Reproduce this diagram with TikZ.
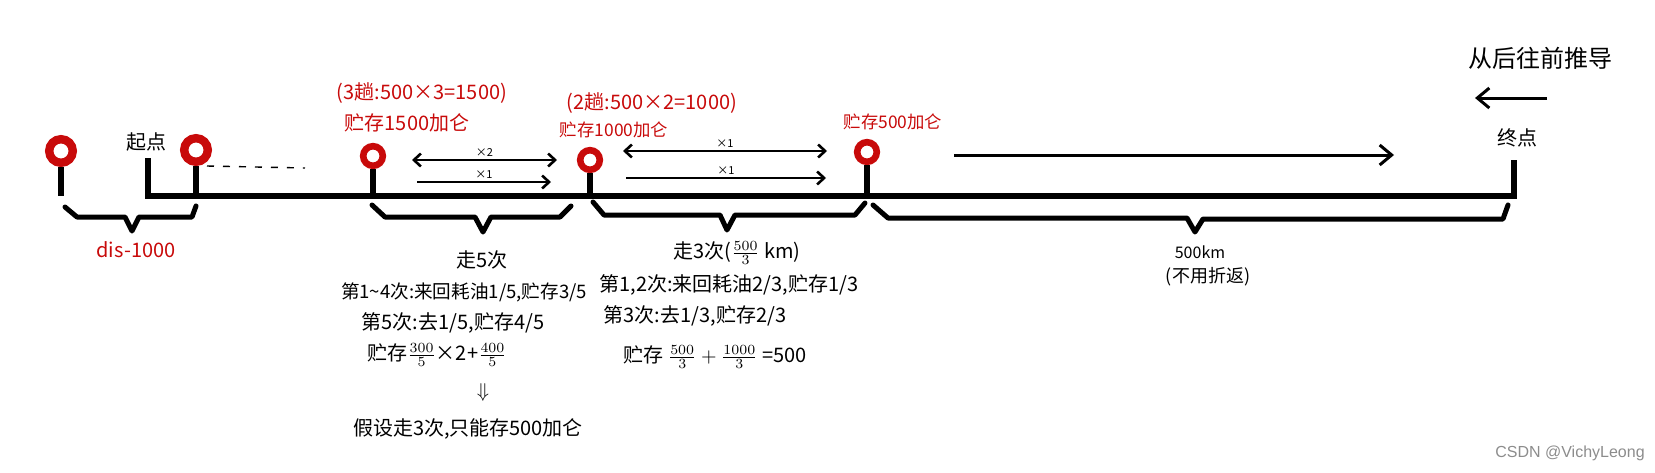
\documentclass[tikz,border=0pt]{standalone}
\usepackage{amsmath}
\usepackage{fontspec}
\setmainfont{Noto Sans CJK SC}
\newfontfamily\wmfont{Liberation Sans}
\usepackage{tikz}
\usetikzlibrary{arrows.meta,positioning}
\definecolor{stred}{RGB}{200,10,10}

\begin{document}
\begin{tikzpicture}[x=0.5pt, y=-0.5pt, >={Straight Barb[length=3.5pt,width=6.5pt]}]
        % Stili
        \tikzstyle{station} = [draw=stred, circle, line width=4.2pt, minimum size=11.8pt, inner sep=0pt]
        \tikzstyle{smallstation} = [station, line width=3.3pt, minimum size=9.8pt]
        \tikzstyle{stem} = [line width=3pt]
        \tikzstyle{brace} = [line width=2.5pt, line join=round, line cap=round]
        \tikzstyle{trip} = [line width=1.3pt]
        \tikzstyle{far} = [line width=1.5pt, >={Straight Barb[length=6pt,width=10pt]}]
        \tikzstyle{note} = [font=\fontsize{10}{12}\selectfont, inner sep=0pt]
        \tikzstyle{rednote} = [note, text=stred]
        \tikzstyle{smallred} = [rednote, font=\fontsize{8.7}{10}\selectfont]
        \tikzstyle{times} = [font=\fontsize{5.5}{6}\selectfont, inner sep=1pt]

        \useasboundingbox (0,0) rectangle (1655,472);

        % Stazioni
        \node [station] (s1) at (61,151) {};
        \node [station] (s2) at (196,150) {};
        \node [smallstation] (s3) at (373,156) {};
        \node [smallstation] (s4) at (590,160) {};
        \node [smallstation] (s5) at (867,152) {};

        % Linea
        \coordinate (start) at (148,158);
        \coordinate (a0) at (148,196);
        \coordinate (a1) at (1514,196);
        \coordinate (finish) at (1514,160);
        \draw [stem] (start) -- (a0) -- (a1) -- (finish);
        \draw [stem] (s1.south) -- (s1.south |- a0);
        \draw [stem] (s2.south) -- (s2.south |- a0);
        \draw [stem] (s3.south) -- (s3.south |- a0);
        \draw [stem] (s4.south) -- (s4.south |- a0);
        \draw [stem] (s5.south) -- (s5.south |- a0);

        \coordinate (gap0) at (207,166);
        \coordinate (gap1) at (305,168);
        \draw [line width=0.7pt, dash pattern=on 3.5pt off 4.5pt] (gap0) -- (gap1);

        % Graffe
        \draw [brace] (65,207) -- (77,217) -- (125,217) -- (132,231) -- (139,217) -- (192,217) -- (196,206);
        \draw [brace] (372,205) -- (385,217) -- (475,217) -- (483,232) -- (491,217) -- (560,217) -- (571,206);
        \draw [brace] (593,202) -- (604,215) -- (720,215) -- (727,230) -- (735,215) -- (855,215) -- (865,203);
        \draw [brace] (873,205) -- (888,218) -- (1187,218) -- (1195,232) -- (1203,219) -- (1503,219) -- (1508,205);

        % Frecce
        \coordinate (b0) at (412,160);
        \coordinate (b1) at (557,160);
        \coordinate (c0) at (417,182);
        \coordinate (c1) at (551,182);
        \coordinate (d0) at (623,151);
        \coordinate (d1) at (827,151);
        \coordinate (e0) at (626,178);
        \coordinate (e1) at (826,178);
        \coordinate (f0) at (954,155);
        \coordinate (f1) at (1394,155);
        \coordinate (g0) at (1547,98);
        \coordinate (g1) at (1475,98);

        \draw [trip, <->] (b0) -- node [times, above] (tb) {×2} (b1);
        \draw [trip, ->] (c0) -- node [times, above] (tc) {×1} (c1);
        \draw [trip, <->] (d0) -- node [times, above] (td) {×1} (d1);
        \draw [trip, ->] (e0) -- node [times, above] (te) {×1} (e1);
        \draw [far, ->] (f0) -- (f1);
        \draw [far, ->] (g0) -- (g1);

        % Testi
        \node [note] (startlbl) at (146,142) {起点};
        \node [note] (endlbl) at (1517,138) {终点};
        \node [note, font=\fontsize{12}{14}\selectfont] (backlbl) at (1540,58) {从后往前推导};
        \node [rednote] (dis) at (136,250) {dis-1000};

        \node [rednote] (trip3) at (422,93) {(3趟:500×3=1500)};
        \node [rednote] (store3) at (407,123) {贮存1500加仑};
        \node [rednote] (trip2) at (652,103) {(2趟:500×2=1000)};
        \node [smallred] (store2) at (614,130) {贮存1000加仑};
        \node [smallred] (store1) at (893,122) {贮存500加仑};

        \node [note] (walk5) at (482,260) {走5次};
        \node [note, font=\fontsize{9.3}{11}\selectfont] (w5a) at (464,292) {第1\textasciitilde 4次:来回耗油1/5,贮存3/5};
        \node [note] (w5b) at (453,323) {第5次:去1/5,贮存4/5};
        \node [note] (w5c) at (437,355) {贮存$\tfrac{300}{5}$×2+$\tfrac{400}{5}$};
        \node [note] (w5d) at (483,392) {$\Downarrow$};
        \node [note] (w5e) at (468,429) {假设走3次,只能存500加仑};

        \node [note] (walk3) at (737,253) {走3次($\tfrac{500}{3}$ km)};
        \node [note] (w3a) at (729,285) {第1,2次:来回耗油2/3,贮存1/3};
        \node [note] (w3b) at (695,316) {第3次:去1/3,贮存2/3};
        \node [note] (w3c) at (715,357) {贮存 $\tfrac{500}{3}+\tfrac{1000}{3}$ =500};

        \node [note, font=\fontsize{8}{9}\selectfont] (dist) at (1200,252) {500km};
        \node [note, font=\fontsize{9}{10}\selectfont] (noback) at (1208,277) {(不用折返)};

        \node [font=\wmfont\fontsize{8}{9}\selectfont, text=black!45, inner sep=0pt] (mark) at (1570,453) {CSDN @VichyLeong};
    \end{tikzpicture}
\end{document}
